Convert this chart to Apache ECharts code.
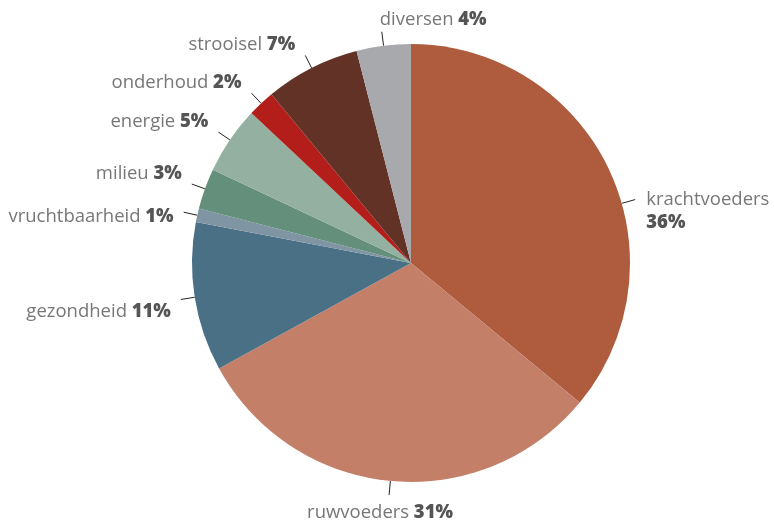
<!DOCTYPE html>
<html><head><meta charset="utf-8">
<script src="https://cdn.jsdelivr.net/npm/echarts@6/dist/echarts.min.js"></script>
<style>html,body{margin:0;padding:0;background:#fff}#c{width:774px;height:523px}</style>
</head><body><div id="c"></div>
<script>
const categories = ['krachtvoeders','ruwvoeders','gezondheid','vruchtbaarheid','milieu','energie','onderhoud','strooisel','diversen'];
const values = [36, 31, 11, 1, 3, 5, 2, 7, 4];
const colors = ['#AE5B3E','#C47F68','#4A7086','#7F95A3','#648F7A','#93B0A0','#B31E1A','#633226','#A8A9AD'];
// leader-line angular nudge (degrees) per category, 0 = slice middle
const lineNudge = [9.4, 0, 0, 0, 0, 0, 0, 0, 0];

const CX = 411, CY = 263;
const FONT = 'Open Sans';
const chart = echarts.init(document.getElementById('c'));
const data = categories.map((n, i) => ({ name: n, value: values[i], itemStyle: { color: colors[i] } }));

function rot(p, deg) {
  const r = deg * Math.PI / 180, c = Math.cos(r), s = Math.sin(r);
  const x = p[0] - CX, y = p[1] - CY;
  return [CX + x * c - y * s, CY + x * s + y * c];
}

chart.setOption({
  animation: false,
  series: [{
    type: 'pie',
    center: [CX, CY],
    radius: [0, 219],
    startAngle: 90,
    clockwise: true,
    data: data,
    label: {
      show: true,
      position: 'outside',
      alignTo: 'none',
      fontFamily: FONT,
      fontSize: 18,
      formatter: function (p) {
        const sep = p.name === 'krachtvoeders' ? '\n' : ' ';
        return '{n|' + p.name + '}' + sep + '{p|' + p.value + '%}';
      },
      rich: {
        n: { fontFamily: FONT, fontSize: 18.5, color: '#777777', lineHeight: 23 },
        p: { fontFamily: FONT, fontSize: 18.5, fontWeight: 800, color: '#555555', lineHeight: 23 }
      }
    },
    labelLine: { show: true, length: 14, length2: 0, smooth: false, lineStyle: { color: '#222', width: 1 } },
    labelLayout: function (params) {
      let pts = params.labelLinePoints;
      if (!pts) return {};
      const nudge = lineNudge[params.dataIndex] || 0;
      if (nudge) pts = pts.map(p => rot(p, nudge));
      const a = pts[0], b = pts[pts.length - 1];
      const dx = b[0] - a[0], dy = b[1] - a[1];
      const len = Math.sqrt(dx * dx + dy * dy) || 1;
      const ux = dx / len, uy = dy / len;
      let x, y, align, va;
      if (uy > 0.8) {            // bottom
        align = 'center'; va = 'top'; x = b[0] - 9; y = b[1] + 6;
      } else if (uy < -0.9) {    // top
        align = 'left'; va = 'bottom'; x = b[0] - 2; y = b[1] - 1;
      } else if (ux > 0) {       // right side
        align = 'left'; va = 'top'; x = b[0] + 11; y = b[1] - 11;
      } else {                   // left side
        align = 'right';
        x = b[0] - 10;
        if (uy < -0.28) { va = 'bottom'; y = b[1] + 1; }
        else if (uy < 0) { va = 'middle'; y = b[1] + 5; }
        else { va = 'top'; y = b[1] + 1; }
      }
      return { x: x, y: y, align: align, verticalAlign: va, labelLinePoints: pts };
    }
  }]
});
</script></body></html>
